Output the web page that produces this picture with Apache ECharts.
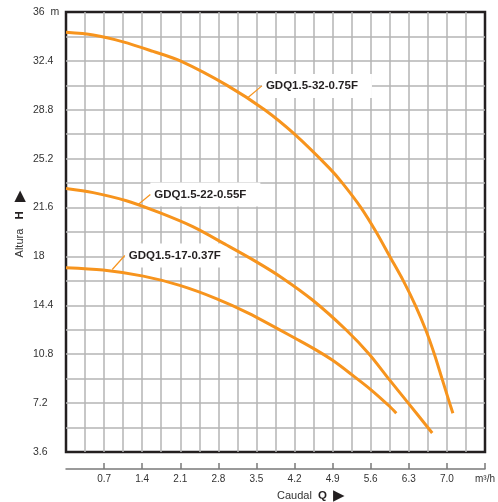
<!DOCTYPE html>
<html>
<head>
<meta charset="utf-8">
<script src="https://cdn.jsdelivr.net/npm/echarts@6/dist/echarts.min.js"></script>
<style>
  html, body { margin: 0; padding: 0; background: #fff; }
  #chart { width: 498px; height: 502px; }
</style>
</head>
<body>
<div id="chart"></div>
<script>
// ---- data ----
const seriesNames = ['GDQ1.5-32-0.75F', 'GDQ1.5-22-0.55F', 'GDQ1.5-17-0.37F'];

const q32 = [0, 0.5, 1.05, 1.6, 2.1, 2.96, 3.65, 4.2, 4.84, 5.08, 5.42, 5.7, 5.95, 6.2, 6.42, 6.61, 6.77, 6.91, 7.05, 7.11];
const h32 = [34.5, 34.3, 33.8, 33.1, 32.4, 30.6, 28.8, 27.0, 24.5, 23.4, 21.6, 19.8, 18.0, 16.2, 14.4, 12.6, 10.8, 9.0, 7.2, 6.45];

const q22 = [0, 0.5, 1.11, 1.72, 2.33, 2.95, 3.5, 3.98, 4.53, 5.145, 5.573, 5.927, 6.29, 6.73];
const h22 = [23.0, 22.7, 22.1, 21.22, 20.19, 18.84, 17.6, 16.4, 14.79, 12.6, 10.8, 9.0, 7.2, 5.0];

const q17 = [0, 0.68, 1.42, 2.09, 2.76, 3.36, 4.29, 4.6, 4.9, 5.25, 5.6, 5.95, 6.07];
const h17 = [17.17, 17.0, 16.55, 15.87, 14.9, 13.81, 11.8, 11.1, 10.35, 9.3, 8.2, 6.95, 6.45];

// label leader lines: [q on curve, h on curve, q at label, h at label]
const leader32 = [3.35, 29.72, 3.60, 30.56];
const leader22 = [1.31, 21.77, 1.55, 22.56];
const leader17 = [0.85, 17.04, 1.08, 18.07];

const xTickValues = [0.7, 1.4, 2.1, 2.8, 3.5, 4.2, 4.9, 5.6, 6.3, 7.0, 7.7];
const xUnit = 'm³/h';
const yUnit = 'm';

// ---- chart ----
const ORANGE = '#F7941D';
const TEXT = '#333333';
const GRIDC = '#b5b5b5';
const FONT = 'Liberation Sans, Arial, sans-serif';

function zip(q, h) { return q.map((v, i) => [v, h[i]]); }

function curve(name, q, h, leader) {
  return {
    name: name,
    type: 'line',
    xAxisIndex: 0,
    data: zip(q, h),
    smooth: 0.3,
    showSymbol: false,
    symbol: 'none',
    lineStyle: { color: ORANGE, width: 3 },
    itemStyle: { color: ORANGE },
    z: 3,
    markLine: {
      silent: true,
      z: 2,
      symbol: ['none', 'none'],
      label: { show: false },
      lineStyle: { color: ORANGE, width: 1.2, type: 'solid' },
      data: [[{ coord: [leader[0], leader[1]] }, { coord: [leader[2], leader[3]] }]]
    },
    markPoint: {
      silent: true,
      z: 1,
      symbol: 'circle',
      symbolSize: 0,
      data: [{ coord: [leader[2], leader[3]], value: name }],
      label: {
        show: true,
        position: 'right',
        distance: 0,
        formatter: name,
        backgroundColor: '#ffffff',
        padding: [6, 14, 6, 4],
        color: '#231f20',
        fontWeight: 'bold',
        fontSize: 11.5,
        fontFamily: FONT
      }
    }
  };
}

const chart = echarts.init(document.getElementById('chart'), null, { renderer: 'canvas' });

chart.setOption({
  animation: false,
  backgroundColor: '#ffffff',
  grid: {
    left: 66, top: 12, width: 420, height: 440,
    show: true,
    borderColor: '#231f20',
    borderWidth: 2.5,
    backgroundColor: 'transparent'
  },
  xAxis: [
    {
      type: 'value',
      position: 'bottom',
      min: 0, max: 7.7, interval: 0.7,
      offset: 17,
      axisLine: { show: true, onZero: false, lineStyle: { color: '#7a7a7a', width: 1.5 } },
      axisTick: { show: true, inside: true, length: 6, customValues: xTickValues, lineStyle: { color: '#7a7a7a', width: 1.5 } },
      axisLabel: {
        show: true,
        customValues: xTickValues,
        margin: 5,
        color: TEXT,
        fontSize: 10,
        fontFamily: FONT,
        formatter: function (v) {
          if (Math.abs(v - 7.7) < 1e-6) return xUnit;
          return v.toFixed(1);
        }
      },
      splitLine: { show: false }
    },
    {
      type: 'value',
      position: 'top',
      min: 0, max: 7.7, interval: 0.35,
      axisLine: { show: false },
      axisTick: { show: false },
      axisLabel: { show: false },
      splitLine: { show: true, showMinLine: false, showMaxLine: false, lineStyle: { color: GRIDC, width: 1.5 } }
    }
  ],
  yAxis: {
    type: 'value',
    min: 3.6, max: 36, interval: 3.6,
    axisLine: { show: false },
    axisTick: { show: false },
    axisLabel: {
      show: true,
      align: 'left',
      margin: 33,
      color: TEXT,
      fontSize: 10.5,
      fontFamily: FONT,
      formatter: function (v) {
        const r = Math.round(v * 10) / 10;
        if (Math.abs(r - 36) < 1e-6) return '36  ' + yUnit;
        return String(r);
      }
    },
    splitLine: { show: true, showMinLine: false, showMaxLine: false, lineStyle: { color: GRIDC, width: 1.5 } },
    minorTick: { show: false, splitNumber: 2 },
    minorSplitLine: { show: true, lineStyle: { color: GRIDC, width: 1.5 } }
  },
  graphic: [
    {
      type: 'text',
      x: 20, y: 224,
      rotation: Math.PI / 2,
      silent: true,
      style: {
        text: 'Altura   {h|H}   {t|▶}',
        align: 'center',
        verticalAlign: 'middle',
        fill: TEXT,
        fontSize: 11,
        fontFamily: FONT,
        rich: {
          h: { fontSize: 11.5, fontWeight: 'bold', fill: '#231f20', fontFamily: FONT },
          t: { fontSize: 15, fill: '#231f20', fontFamily: 'DejaVu Sans' }
        }
      }
    },
    {
      type: 'text',
      x: 277, y: 496,
      silent: true,
      style: {
        text: 'Caudal  {h|Q}  {t|▶}',
        align: 'left',
        verticalAlign: 'middle',
        fill: TEXT,
        fontSize: 11,
        fontFamily: FONT,
        rich: {
          h: { fontSize: 11.5, fontWeight: 'bold', fill: '#231f20', fontFamily: FONT },
          t: { fontSize: 15, fill: '#231f20', fontFamily: 'DejaVu Sans' }
        }
      }
    }
  ],
  series: [
    curve(seriesNames[0], q32, h32, leader32),
    curve(seriesNames[1], q22, h22, leader22),
    curve(seriesNames[2], q17, h17, leader17)
  ]
});
</script>
</body>
</html>
